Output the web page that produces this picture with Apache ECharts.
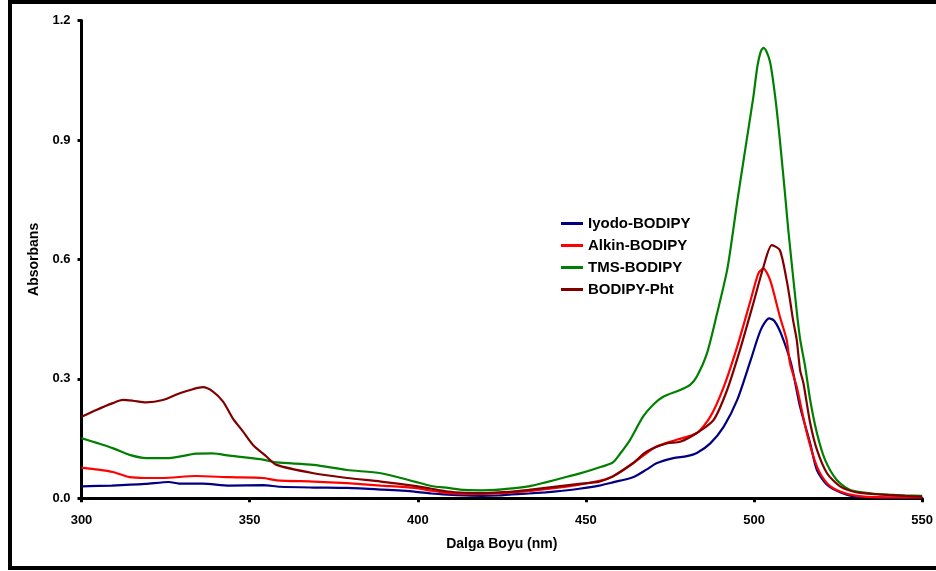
<!DOCTYPE html>
<html>
<head>
<meta charset="utf-8">
<title>BODIPY absorpsiyon spektrumları</title>
<script src="https://cdn.jsdelivr.net/npm/echarts@6/dist/echarts.min.js"></script>
<style>
  html, body { margin: 0; padding: 0; background: #ffffff; }
  #chart { width: 936px; height: 571px; }
</style>
</head>
<body>
<div id="chart"></div>
<script>
// Wavelength (nm) / absorbance readings for each compound
const iyodoNm  = [300, 309, 319, 326, 329, 336, 344, 354, 359, 369, 379, 389, 399, 404, 409, 414, 419, 424, 428, 433, 438, 443, 448, 454, 458, 464, 468, 471, 476, 480, 483, 487, 491, 495, 499, 502, 504.5, 506, 508, 511, 513.7, 516.7, 518.7, 521.7, 525.6, 529.5, 535, 540, 550];
const iyodoAbs = [0.030, 0.032, 0.036, 0.041, 0.037, 0.037, 0.032, 0.033, 0.029, 0.027, 0.026, 0.022, 0.017, 0.012, 0.009, 0.007, 0.006, 0.007, 0.010, 0.012, 0.015, 0.019, 0.024, 0.032, 0.040, 0.053, 0.072, 0.088, 0.101, 0.106, 0.114, 0.138, 0.180, 0.247, 0.347, 0.423, 0.452, 0.446, 0.414, 0.339, 0.230, 0.138, 0.071, 0.034, 0.015, 0.005, 0.003, 0.002, 0.002];

const alkinNm  = [300, 305, 309.3, 314.3, 319, 324, 334, 344, 354, 358, 369, 379, 389, 399, 404, 409, 414, 419, 424, 428, 433, 438, 443, 448, 454, 458, 464, 468, 471, 477, 483, 487, 491, 495, 499, 501.3, 502.8, 504.8, 507.7, 509.7, 510.7, 512.7, 515.7, 518.7, 521.7, 525.6, 530.6, 540, 550];
const alkinAbs = [0.077, 0.072, 0.066, 0.053, 0.051, 0.051, 0.056, 0.053, 0.051, 0.045, 0.042, 0.038, 0.032, 0.026, 0.019, 0.013, 0.011, 0.011, 0.012, 0.015, 0.018, 0.023, 0.028, 0.034, 0.044, 0.055, 0.088, 0.113, 0.130, 0.147, 0.164, 0.205, 0.280, 0.381, 0.498, 0.565, 0.577, 0.548, 0.456, 0.398, 0.339, 0.280, 0.164, 0.080, 0.038, 0.017, 0.006, 0.002, 0.002];

const tmsNm  = [300, 305, 309.3, 314.3, 319.3, 326, 334, 339, 344, 354, 358, 369, 379, 389, 399, 404, 409, 414, 419, 423, 428, 433, 438, 443, 448, 453, 458, 460, 463, 467, 470, 473, 478, 481, 483, 486, 489, 492, 493.8, 495, 497.8, 499.8, 501.0, 502.0, 502.8, 503.6, 504.8, 506.3, 507.7, 509.3, 510.2, 512.7, 513.7, 515.2, 516.7, 518.7, 521.1, 524.6, 528.6, 535, 540, 545, 550];
const tmsAbs = [0.151, 0.138, 0.126, 0.109, 0.101, 0.101, 0.112, 0.113, 0.107, 0.097, 0.090, 0.084, 0.071, 0.063, 0.042, 0.031, 0.026, 0.021, 0.020, 0.021, 0.025, 0.030, 0.040, 0.051, 0.062, 0.075, 0.090, 0.110, 0.145, 0.205, 0.235, 0.255, 0.272, 0.285, 0.306, 0.364, 0.464, 0.573, 0.673, 0.745, 0.899, 1.008, 1.085, 1.122, 1.131, 1.124, 1.095, 1.008, 0.899, 0.757, 0.673, 0.470, 0.400, 0.331, 0.247, 0.164, 0.097, 0.046, 0.021, 0.012, 0.009, 0.007, 0.006];

const phtNm  = [300, 304.4, 309.3, 312.3, 315.3, 319.2, 324.2, 329.2, 333.1, 336.1, 339.1, 342.1, 345, 348, 351, 355, 358, 369, 379, 389, 399, 404, 409, 414, 419, 424, 428, 433, 438, 443, 448, 454, 458, 464, 468, 474, 478, 483, 488, 492, 495.8, 499.8, 502.8, 505.3, 507.7, 509.7, 510.7, 511.6, 512.7, 513.7, 514.7, 516.7, 518.7, 521.7, 525.6, 530.6, 538.5, 545, 550];
const phtAbs = [0.205, 0.222, 0.239, 0.247, 0.245, 0.241, 0.247, 0.264, 0.274, 0.279, 0.268, 0.243, 0.201, 0.168, 0.134, 0.105, 0.084, 0.063, 0.051, 0.042, 0.031, 0.024, 0.017, 0.014, 0.013, 0.015, 0.017, 0.021, 0.026, 0.031, 0.036, 0.042, 0.055, 0.088, 0.117, 0.138, 0.142, 0.164, 0.197, 0.272, 0.372, 0.490, 0.581, 0.636, 0.623, 0.548, 0.498, 0.448, 0.398, 0.322, 0.289, 0.189, 0.122, 0.063, 0.030, 0.015, 0.009, 0.006, 0.004];

const seriesNames  = ['Iyodo-BODIPY', 'Alkin-BODIPY', 'TMS-BODIPY', 'BODIPY-Pht'];
const seriesColors = ['#000080', '#ff0000', '#008000', '#800000'];

const xTicks = { min: 300, max: 550, step: 50 };
const yTicks = { min: 0, max: 1.2, step: 0.3 };

const pairs = (xs, ys) => xs.map((x, i) => [x, ys[i]]);
const seriesData = [
  pairs(iyodoNm, iyodoAbs),
  pairs(alkinNm, alkinAbs),
  pairs(tmsNm, tmsAbs),
  pairs(phtNm, phtAbs)
];

const FONT = 'Liberation Sans, Arial, Helvetica, sans-serif';

const chart = echarts.init(document.getElementById('chart'), null, { renderer: 'canvas' });

chart.setOption({
  backgroundColor: '#ffffff',
  animation: false,
  graphic: [{
    type: 'rect',
    silent: true,
    shape: { x: 10, y: 2, width: 940, height: 566 },
    style: { fill: 'none', stroke: '#000000', lineWidth: 4 }
  }],
  grid: { left: 81.5, right: 13.7, top: 20.5, bottom: 72.7, containLabel: false },
  legend: {
    orient: 'vertical',
    left: 561,
    top: 216,
    padding: 0,
    icon: 'path://M0,0H22V3H0Z',
    itemWidth: 22,
    itemHeight: 3,
    itemGap: 7,
    data: seriesNames,
    textStyle: { fontFamily: FONT, fontWeight: 'bold', fontSize: 15, color: '#000000', padding: [0, 0, 0, 0] }
  },
  xAxis: {
    type: 'value',
    min: xTicks.min,
    max: xTicks.max,
    interval: xTicks.step,
    name: 'Dalga Boyu (nm)',
    nameLocation: 'middle',
    nameGap: 39,
    nameTextStyle: { fontFamily: FONT, fontWeight: 'bold', fontSize: 14, color: '#000000' },
    axisLine: { lineStyle: { color: '#000000', width: 3 } },
    axisTick: { show: true, length: 4, lineStyle: { color: '#000000', width: 3 } },
    axisLabel: { margin: 16, fontFamily: FONT, fontWeight: 'bold', fontSize: 13, color: '#000000' },
    splitLine: { show: false }
  },
  yAxis: {
    type: 'value',
    min: yTicks.min,
    max: yTicks.max,
    interval: yTicks.step,
    name: 'Absorbans',
    nameLocation: 'middle',
    nameGap: 35,
    nameTextStyle: { fontFamily: FONT, fontWeight: 'bold', fontSize: 14, color: '#000000' },
    axisLine: { show: true, lineStyle: { color: '#000000', width: 3 } },
    axisTick: { show: true, length: 4, lineStyle: { color: '#000000', width: 3 } },
    axisLabel: {
      margin: 11,
      fontFamily: FONT, fontWeight: 'bold', fontSize: 13, color: '#000000',
      formatter: v => v.toFixed(1)
    },
    splitLine: { show: false }
  },
  series: seriesNames.map((name, i) => ({
    name: name,
    type: 'line',
    data: seriesData[i],
    symbol: 'none',
    showSymbol: false,
    smooth: 0.25,
    color: seriesColors[i],
    lineStyle: { color: seriesColors[i], width: 2.2 },
    z: 2 + i
  }))
});
</script>
</body>
</html>
